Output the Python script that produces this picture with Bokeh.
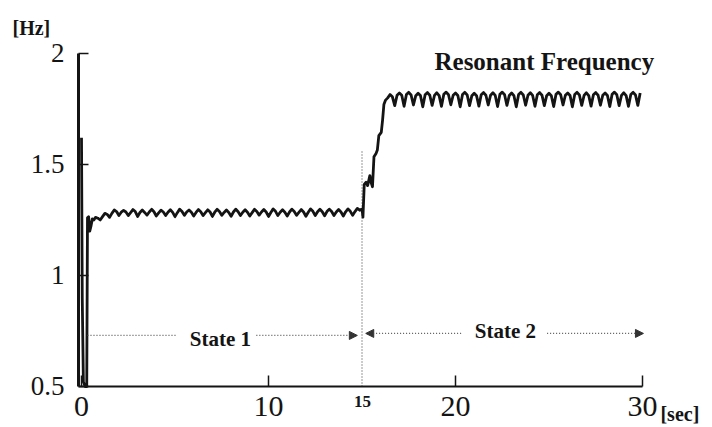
import numpy as np
from bokeh.plotting import figure
from bokeh.models import (FixedTicker, Label, Arrow, NormalHead, ColumnDataSource,
                          Range1d, LinearAxis)
from bokeh.embed import file_html
from bokeh.resources import INLINE

# ---------------- data ----------------
x_ticks = [0, 10, 20, 30]
y_ticks = [0.5, 1, 1.5, 2]
y_tick_labels = {0.5: "0.5", 1: "1", 1.5: "1.5", 2: "2"}

# start-up transient
start_t = [0.0, 0.04, 0.10, 0.20, 0.28, 0.32, 0.38, 0.44, 0.50, 0.58, 0.66]
start_v = [1.62, 0.90, 0.52, 0.50, 0.50, 1.26, 1.265, 1.20, 1.22, 1.255, 1.25]

# State 1 oscillation, sampled every 0.125 s from t = 0.75 s
state1_t0 = 0.75
state1_v = [
    1.262, 1.258, 1.250, 1.265,
    1.280, 1.275, 1.262, 1.280,
    1.295, 1.288, 1.270, 1.285,
    1.293, 1.286, 1.270, 1.283,
    1.297, 1.288, 1.266, 1.284,
    1.295, 1.284, 1.272, 1.286,
    1.298, 1.287, 1.268, 1.282,
    1.294, 1.286, 1.270, 1.285,
    1.296, 1.284, 1.265, 1.283,
    1.299, 1.288, 1.271, 1.286,
    1.295, 1.285, 1.268, 1.284,
    1.297, 1.287, 1.270, 1.283,
    1.296, 1.286, 1.266, 1.285,
    1.298, 1.288, 1.271, 1.284,
    1.295, 1.284, 1.267, 1.286,
    1.299, 1.287, 1.270, 1.285,
    1.296, 1.285, 1.268, 1.283,
    1.298, 1.288, 1.272, 1.286,
    1.297, 1.286, 1.266, 1.284,
    1.300, 1.289, 1.270, 1.285,
    1.296, 1.285, 1.268, 1.286,
    1.299, 1.288, 1.271, 1.284,
    1.297, 1.286, 1.267, 1.285,
    1.300, 1.289, 1.270, 1.287,
    1.298, 1.287, 1.269, 1.288,
    1.299, 1.288, 1.270, 1.286,
    1.297, 1.286, 1.268, 1.287,
    1.300, 1.289, 1.271, 1.288,
    1.302, 1.294, 1.300,
]

# transition from State 1 to State 2
trans_t = [15.05, 15.12, 15.22, 15.30, 15.42, 15.50, 15.56, 15.64, 15.75,
           15.82, 15.90, 16.03, 16.10, 16.17, 16.26]
trans_v = [1.263, 1.410, 1.420, 1.405, 1.450, 1.415, 1.400, 1.535, 1.550,
           1.565, 1.630, 1.645, 1.700, 1.770, 1.790]

# State 2 oscillation, sampled every 0.125 s from t = 16.375 s
state2_t0 = 16.375
state2_v = [
    1.800, 1.815, 1.805, 1.765,
    1.812, 1.822, 1.812, 1.762,
    1.815, 1.825, 1.813, 1.768,
    1.810, 1.821, 1.811, 1.760,
    1.814, 1.824, 1.812, 1.766,
    1.811, 1.823, 1.810, 1.762,
    1.816, 1.826, 1.814, 1.769,
    1.812, 1.822, 1.811, 1.760,
    1.815, 1.825, 1.813, 1.765,
    1.810, 1.821, 1.810, 1.763,
    1.814, 1.824, 1.812, 1.768,
    1.812, 1.823, 1.811, 1.761,
    1.816, 1.826, 1.814, 1.766,
    1.811, 1.822, 1.810, 1.760,
    1.815, 1.825, 1.813, 1.767,
    1.812, 1.823, 1.811, 1.762,
    1.814, 1.824, 1.812, 1.765,
    1.810, 1.821, 1.810, 1.761,
    1.816, 1.826, 1.814, 1.768,
    1.812, 1.822, 1.811, 1.760,
    1.815, 1.825, 1.813, 1.766,
    1.811, 1.823, 1.810, 1.763,
    1.814, 1.824, 1.812, 1.767,
    1.812, 1.822, 1.811, 1.761,
    1.816, 1.826, 1.814, 1.765,
    1.811, 1.823, 1.810, 1.762,
    1.815, 1.825, 1.813, 1.766,
    1.822,
]

sample_step = 0.125
state1_t = list(np.round(state1_t0 + sample_step * np.arange(len(state1_v)), 4))
state2_t = list(np.round(state2_t0 + sample_step * np.arange(len(state2_v)), 4))

t_all = start_t + state1_t + trans_t + state2_t
v_all = start_v + state1_v + trans_v + state2_v
src = ColumnDataSource(data=dict(t=t_all, v=v_all))

# ---------------- figure ----------------
SERIF = "Liberation Serif"
INK = "#141414"
X0 = -0.16   # where the y axis sits
Y0 = 0.5     # where the x axis sits

# frame spans the whole canvas; axes are pinned inside it
p = figure(width=712, height=427, output_backend="svg", toolbar_location=None,
           x_range=Range1d(-4.332, 33.743), y_range=Range1d(0.3153, 2.2387),
           x_axis_location=None, y_axis_location=None,
           min_border=0)
p.outline_line_color = None
p.grid.visible = False
p.background_fill_color = "white"
p.border_fill_color = "white"

xaxis = LinearAxis(fixed_location=Y0, bounds=(X0, 30),
                   ticker=FixedTicker(ticks=x_ticks))
xaxis.major_tick_in = 11
xaxis.major_tick_out = 0
xaxis.minor_tick_in = 0
xaxis.minor_tick_out = 0
xaxis.axis_line_width = 2
xaxis.axis_line_color = INK
xaxis.major_tick_line_width = 1.5
xaxis.major_tick_line_color = INK
xaxis.major_label_text_font = SERIF
xaxis.major_label_text_font_size = "30px"
xaxis.major_label_text_color = INK
xaxis.major_label_standoff = 11
p.add_layout(xaxis, "below")

yaxis = LinearAxis(fixed_location=X0, bounds=(0.5, 2),
                   ticker=FixedTicker(ticks=y_ticks))
yaxis.major_label_overrides = y_tick_labels
yaxis.major_tick_in = 10
yaxis.major_tick_out = 0
yaxis.minor_tick_in = 0
yaxis.minor_tick_out = 0
yaxis.axis_line_width = 3
yaxis.axis_line_color = INK
yaxis.major_tick_line_width = 1.5
yaxis.major_tick_line_color = INK
yaxis.major_label_text_font = SERIF
yaxis.major_label_text_font_size = "27px"
yaxis.major_label_text_color = INK
yaxis.major_label_standoff = 14
p.add_layout(yaxis, "left")

# boundary marker at t = 15
p.line(x=[15, 15], y=[0.5, 1.563], line_color="#555555", line_width=1.2,
       line_dash="1 2")

# the measured trace
p.line(x="t", y="v", source=src, line_color=INK, line_width=2.8,
       line_join="round")

# State arrows
dot = dict(line_color="#555555", line_width=1.3, line_dash="1 2")
def head():
    return NormalHead(size=8, fill_color="#333333", line_color="#333333", line_width=1)

p.line(x=[0.32, 5.1], y=[0.73, 0.73], **dot)
p.add_layout(Arrow(x_start=9.35, y_start=0.73, x_end=14.75, y_end=0.73, end=head(), **dot))
p.add_layout(Arrow(x_start=20.3, y_start=0.739, x_end=15.2, y_end=0.739, end=head(), **dot))
p.add_layout(Arrow(x_start=24.9, y_start=0.739, x_end=30.05, y_end=0.739, end=head(), **dot))

bold = dict(text_font=SERIF, text_font_style="bold", text_color=INK)
p.add_layout(Label(x=7.43, y=0.712, text="State 1", text_align="center",
                   text_baseline="alphabetic", text_font_size="21px", **bold))
p.add_layout(Label(x=22.67, y=0.75, text="State 2", text_align="center",
                   text_baseline="alphabetic", text_font_size="21px", **bold))
p.add_layout(Label(x=24.75, y=1.963, text="Resonant Frequency", text_align="center",
                   text_baseline="alphabetic", text_font_size="25px", **bold))
p.add_layout(Label(x=15.03, y=0.432, text="15", text_align="center",
                   text_baseline="alphabetic", text_font_size="17px", **bold))
p.add_layout(Label(x=30.96, y=0.377, text="[sec]", text_align="left",
                   text_baseline="alphabetic", text_font_size="20px", **bold))
p.add_layout(Label(x=-3.69, y=2.113, text="[Hz]", text_align="left",
                   text_baseline="alphabetic", text_font_size="20px", **bold))

open("out.html", "w").write(file_html(p, INLINE))
